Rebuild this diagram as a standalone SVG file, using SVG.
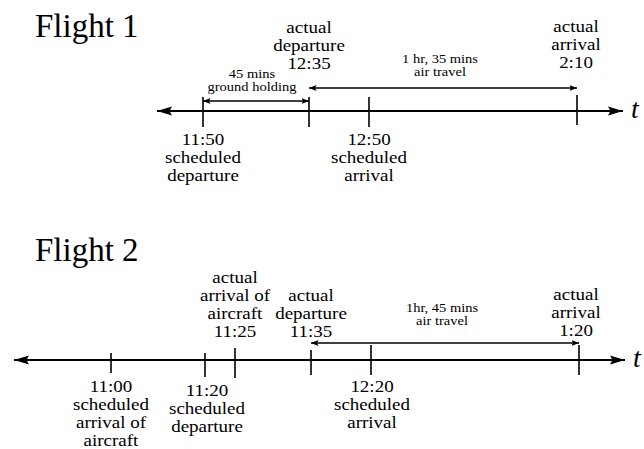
<svg xmlns="http://www.w3.org/2000/svg" width="644" height="449" viewBox="0 0 644 449">
<style>
text{font-family:"Liberation Serif","Times New Roman",serif;fill:#000;text-anchor:middle}
.title{font-size:33px;text-anchor:start}
.lbl{font-size:16px}
.sm{font-size:12.5px}
.t{font-size:28px;font-style:italic;text-anchor:start}
.axis{stroke:#000;stroke-width:2;fill:none}
.tick{stroke:#000;stroke-width:1.6;fill:none}
.dim{stroke:#000;stroke-width:1.3;fill:none}
</style>
<defs>
<marker id="big" markerUnits="userSpaceOnUse" markerWidth="16" markerHeight="10" refX="15" refY="5" orient="auto-start-reverse" viewBox="0 0 16 10">
<path d="M0,0.5 L15,5 L0,9.5 L2.5,5 z" fill="#000"/>
</marker>
<marker id="sm" markerUnits="userSpaceOnUse" markerWidth="8" markerHeight="7" refX="7.5" refY="3.5" orient="auto-start-reverse" viewBox="0 0 8 7">
<path d="M0,0.5 L7.5,3.5 L0,6.5 L1.5,3.5 z" fill="#000"/>
</marker>
</defs>

<g id="flight1-title"><text class="title" x="35" y="37">Flight 1</text></g>
<g id="flight2-title"><text class="title" x="35" y="261">Flight 2</text></g>

<g id="connectors">
<line class="axis" x1="157" y1="111" x2="623" y2="111" marker-start="url(#big)" marker-end="url(#big)"/>
<line class="axis" x1="14" y1="360" x2="625" y2="360" marker-start="url(#big)" marker-end="url(#big)"/>
<line class="dim" x1="203" y1="101" x2="309" y2="101" marker-start="url(#sm)" marker-end="url(#sm)"/>
<line class="dim" x1="309" y1="88" x2="577" y2="88" marker-start="url(#sm)" marker-end="url(#sm)"/>
<line class="dim" x1="311" y1="343" x2="579" y2="343" marker-start="url(#sm)" marker-end="url(#sm)"/>
</g>

<g id="t1"><text class="t" x="631" y="118">t</text></g>
<g id="t2"><text class="t" x="633" y="367">t</text></g>

<g id="f1-1150">
<line class="tick" x1="203" y1="97" x2="203" y2="127"/>
<text class="lbl" transform="translate(203,145) scale(1.1875,1)" x="0" y="0">11:50<tspan x="0" dy="18">scheduled</tspan><tspan x="0" dy="18">departure</tspan></text>
</g>
<g id="f1-1235">
<line class="tick" x1="309" y1="97" x2="309" y2="127"/>
<text class="lbl" transform="translate(309,33) scale(1.1875,1)" x="0" y="0">actual<tspan x="0" dy="18">departure</tspan><tspan x="0" dy="18">12:35</tspan></text>
</g>
<g id="f1-1250">
<line class="tick" x1="369" y1="97" x2="369" y2="127"/>
<text class="lbl" transform="translate(369,145) scale(1.1875,1)" x="0" y="0">12:50<tspan x="0" dy="18">scheduled</tspan><tspan x="0" dy="18">arrival</tspan></text>
</g>
<g id="f1-210">
<line class="tick" x1="577" y1="95" x2="577" y2="125"/>
<text class="lbl" transform="translate(576,32) scale(1.1875,1)" x="0" y="0">actual<tspan x="0" dy="18">arrival</tspan><tspan x="0" dy="18">2:10</tspan></text>
</g>
<g id="f1-ground">
<text class="sm" transform="translate(252,77.5) scale(1.16,1)" x="0" y="0">45 mins<tspan x="0" dy="14">ground holding</tspan></text>
</g>
<g id="f1-air">
<text class="sm" transform="translate(440,62.5) scale(1.16,1)" x="0" y="0">1 hr, 35 mins<tspan x="0" dy="14">air travel</tspan></text>
</g>

<g id="f2-1100">
<line class="tick" x1="111" y1="353" x2="111" y2="373"/>
<text class="lbl" transform="translate(111,392) scale(1.1875,1)" x="0" y="0">11:00<tspan x="0" dy="18">scheduled</tspan><tspan x="0" dy="18">arrival of</tspan><tspan x="0" dy="18">aircraft</tspan></text>
</g>
<g id="f2-1120">
<line class="tick" x1="205" y1="353" x2="205" y2="377"/>
<text class="lbl" transform="translate(207,396) scale(1.1875,1)" x="0" y="0">11:20<tspan x="0" dy="18">scheduled</tspan><tspan x="0" dy="18">departure</tspan></text>
</g>
<g id="f2-1125">
<line class="tick" x1="235" y1="348" x2="235" y2="378"/>
<text class="lbl" transform="translate(235,283) scale(1.1875,1)" x="0" y="0">actual<tspan x="0" dy="18">arrival of</tspan><tspan x="0" dy="18">aircraft</tspan><tspan x="0" dy="18">11:25</tspan></text>
</g>
<g id="f2-1135">
<line class="tick" x1="311" y1="350" x2="311" y2="375"/>
<text class="lbl" transform="translate(311,301) scale(1.1875,1)" x="0" y="0">actual<tspan x="0" dy="18">departure</tspan><tspan x="0" dy="18">11:35</tspan></text>
</g>
<g id="f2-1220">
<line class="tick" x1="371" y1="345" x2="371" y2="375"/>
<text class="lbl" transform="translate(372,392) scale(1.1875,1)" x="0" y="0">12:20<tspan x="0" dy="18">scheduled</tspan><tspan x="0" dy="18">arrival</tspan></text>
</g>
<g id="f2-120">
<line class="tick" x1="579" y1="345" x2="579" y2="375"/>
<text class="lbl" transform="translate(576,300) scale(1.1875,1)" x="0" y="0">actual<tspan x="0" dy="18">arrival</tspan><tspan x="0" dy="18">1:20</tspan></text>
</g>
<g id="f2-air">
<text class="sm" transform="translate(442,311.5) scale(1.16,1)" x="0" y="0">1hr, 45 mins<tspan x="0" dy="14">air travel</tspan></text>
</g>
</svg>
